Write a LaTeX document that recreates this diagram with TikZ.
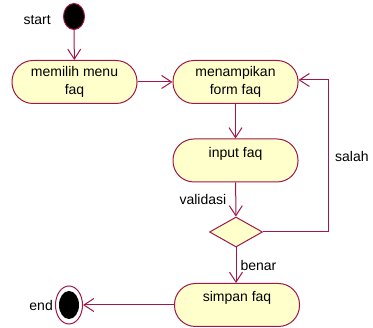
\documentclass[tikz,border=0pt]{standalone}
\usepackage{fontspec}
\setmainfont{Liberation Sans}
\usetikzlibrary{arrows.meta,shapes.geometric}
\definecolor{umlline}{HTML}{A0184A}
\definecolor{umlfill}{HTML}{FFFFCC}
\tikzset{
  act/.style={draw=umlline, fill=umlfill, line width=1pt, rounded corners=21pt,
    minimum width=125pt, minimum height=43pt, inner sep=0pt, align=center,
    font=\fontsize{14}{18}\selectfont},
  toptext/.style={anchor=north, yshift=-5pt, font=\fontsize{14}{18}\selectfont},
  flow/.style={draw=umlline, line width=1pt, -{Straight Barb[length=10pt,width=13pt]}},
  lbl/.style={font=\fontsize{14}{18}\selectfont, inner sep=0pt},
}
\begin{document}
\begin{tikzpicture}[x=1pt,y=-1pt]
\useasboundingbox (0,0) rectangle (373,328);
\node[ellipse, draw=umlline, fill=black, line width=1pt, minimum width=21pt, minimum height=26pt, inner sep=0pt] (start) at (74,16.5) {};
\node[lbl, anchor=east] (startlbl) at (51,20) {start};
\node[act] (pilih) at (74.5,82) {memilih menu\\faq};
\node[act] (tampil) at (235.5,82) {menampikan\\form faq};
\node[act, label={[toptext]north:input faq}] (input) at (235.5,160.5) {};
\node[diamond, draw=umlline, fill=umlfill, line width=1pt, minimum width=53pt, minimum height=30pt, inner sep=0pt] (valid) at (236,232) {};
\node[act, label={[toptext]north:simpan faq}] (simpan) at (237,305) {};
\node[ellipse, draw=umlline, line width=1pt, minimum width=27pt, minimum height=38pt, inner sep=0pt] (end) at (69,305) {};
\node[ellipse, fill=black, minimum width=20pt, minimum height=28pt, inner sep=0pt] (endin) at (end) {};
\node[lbl, anchor=east] (endlbl) at ([xshift=-2pt]end.west) {end};
\coordinate (loop) at (328,80);
\draw[flow] (start) -- (pilih);
\draw[flow] (pilih) -- (tampil);
\draw[flow] (tampil) -- (input);
\draw[flow] (input) -- node[lbl, left=9pt, pos=0.5] {validasi} (valid);
\draw[flow] (valid) -- node[lbl, right=4pt, pos=0.5] {benar} (simpan.north -| valid);
\draw[flow] (valid.east) -| (loop) -- (tampil.east |- loop);
\node[lbl, anchor=west] (salahlbl) at (335,157) {salah};
\draw[flow] (simpan) -- (end);
\end{tikzpicture}
\end{document}
